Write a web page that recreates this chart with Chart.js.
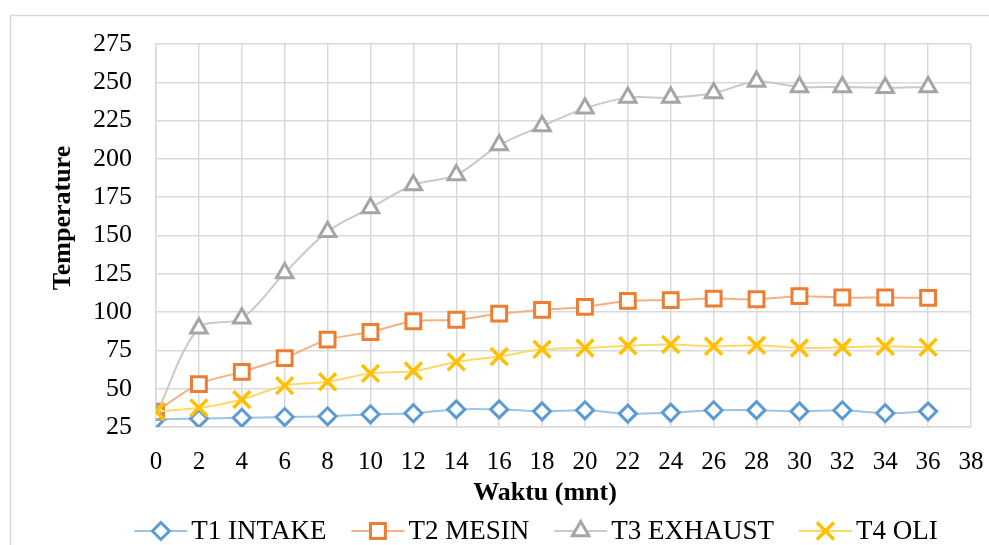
<!DOCTYPE html>
<html>
<head>
<meta charset="utf-8">
<script src="https://cdn.jsdelivr.net/npm/chart.js@4/dist/chart.umd.min.js"></script>
<style>
  html, body { margin: 0; padding: 0; background: #ffffff; }
  #wrap { width: 989px; height: 545px; position: relative; }
</style>
</head>
<body>
<div id="wrap"><canvas id="c" width="989" height="545"></canvas></div>
<script>
// ---- data ----
const waktu = [0, 2, 4, 6, 8, 10, 12, 14, 16, 18, 20, 22, 24, 26, 28, 30, 32, 34, 36];
const t1Intake  = [30, 30.5, 31, 31.5, 32, 33.3, 34, 36.5, 36.5, 35.2, 35.9, 33.7, 34.4, 35.9, 36, 35.2, 35.9, 34, 35.2];
const t2Mesin   = [35, 53, 61, 70, 82, 87, 94, 95, 99, 101.5, 103.4, 107.3, 107.8, 108.8, 108.4, 110.4, 109.5, 109.5, 109.3];
const t3Exhaust = [33, 89.5, 96, 125.5, 152.5, 168, 183, 189.5, 209, 221.5, 233, 240, 240, 243, 250.5, 247, 247, 246.5, 247];
const t4Oli     = [35, 37.5, 43, 52, 54.5, 60, 61.5, 67.5, 71, 75.7, 76.6, 78, 78.8, 77.7, 78.4, 76.6, 77, 77.7, 77];
const seriesNames = ['T1 INTAKE', 'T2 MESIN', 'T3 EXHAUST', 'T4 OLI'];
const xTitle = 'Waktu (mnt)';
const yTitle = 'Temperature';
const xMin = 0, xMax = 38, xStep = 2;
const yMin = 25, yMax = 275, yStep = 25;

// ---- styles ----
const styles = [
  { marker: '#5B9BD5', line: '#9DC3E6', shape: 'rectRot',  r: 8.5, bw: 3 },
  { marker: '#ED7D31', line: '#F4B183', shape: 'rect',     r: 10.5, bw: 3 },
  { marker: '#A5A5A5', line: '#C9C9C9', shape: 'triangle', r: 9.5, bw: 3 },
  { marker: '#FFC000', line: '#FFD966', shape: 'crossRot', r: 12, bw: 3.5 }
];
const allSeries = [t1Intake, t2Mesin, t3Exhaust, t4Oli];
const SERIF = '"Liberation Serif", "Times New Roman", serif';

const datasets = allSeries.map((vals, i) => ({
  label: seriesNames[i],
  data: waktu.map((x, j) => ({ x: x, y: vals[j] })),
  borderColor: styles[i].line,
  borderWidth: 2,
  tension: 0.33,
  pointStyle: styles[i].shape,
  pointRadius: styles[i].r,
  pointHoverRadius: styles[i].r,
  pointBorderColor: styles[i].marker,
  pointBackgroundColor: '#ffffff',
  pointBorderWidth: styles[i].bw,
  order: 4 - i,
  fill: false
}));

function drawMarker(ctx, shape, cx, cy, r, color, lw) {
  ctx.save();
  ctx.strokeStyle = color; ctx.fillStyle = '#fff'; ctx.lineWidth = lw;
  ctx.beginPath();
  if (shape === 'rectRot') {
    ctx.moveTo(cx - r, cy); ctx.lineTo(cx, cy - r); ctx.lineTo(cx + r, cy); ctx.lineTo(cx, cy + r); ctx.closePath();
    ctx.fill(); ctx.stroke();
  } else if (shape === 'rect') {
    const s = r * Math.SQRT1_2;
    ctx.rect(cx - s, cy - s, 2 * s, 2 * s); ctx.fill(); ctx.stroke();
  } else if (shape === 'triangle') {
    ctx.moveTo(cx, cy - r);
    ctx.lineTo(cx + r * Math.sin(2 * Math.PI / 3), cy - r * Math.cos(2 * Math.PI / 3));
    ctx.lineTo(cx + r * Math.sin(4 * Math.PI / 3), cy - r * Math.cos(4 * Math.PI / 3));
    ctx.closePath(); ctx.fill(); ctx.stroke();
  } else {
    const o = r * Math.SQRT1_2;
    ctx.moveTo(cx - o, cy - o); ctx.lineTo(cx + o, cy + o);
    ctx.moveTo(cx + o, cy - o); ctx.lineTo(cx - o, cy + o);
    ctx.stroke();
  }
  ctx.restore();
}

const decorPlugin = {
  id: 'decor',
  beforeDraw(chart) {
    const ctx = chart.ctx;
    ctx.save();
    ctx.fillStyle = '#ffffff';
    ctx.fillRect(0, 0, chart.width, chart.height);
    ctx.strokeStyle = '#D9D9D9';
    ctx.lineWidth = 1.5;
    ctx.strokeRect(10.5, 15.5, 1100, 700);
    ctx.restore();
  },
  afterDraw(chart) {
    const ctx = chart.ctx;
    ctx.save();
    // axis titles
    ctx.fillStyle = '#000';
    ctx.font = 'bold 26px ' + SERIF;
    ctx.textAlign = 'center';
    ctx.textBaseline = 'middle';
    ctx.fillText(xTitle, 545, 493);
    ctx.save();
    ctx.translate(63, 218);
    ctx.rotate(-Math.PI / 2);
    ctx.fillText(yTitle, 0, 0);
    ctx.restore();
    // legend
    ctx.font = '27px ' + SERIF;
    ctx.textAlign = 'left';
    const lineLen = 53, gapText = 4, gapItem = 25;
    const widths = seriesNames.map(n => ctx.measureText(n).width);
    let total = 0;
    widths.forEach((w, i) => { total += lineLen + gapText + w + (i < widths.length - 1 ? gapItem : 0); });
    let x = 536 - total / 2;
    const ly = 531;
    seriesNames.forEach((n, i) => {
      ctx.strokeStyle = styles[i].line; ctx.lineWidth = 2;
      ctx.beginPath(); ctx.moveTo(x, ly); ctx.lineTo(x + lineLen, ly); ctx.stroke();
      drawMarker(ctx, styles[i].shape, x + lineLen / 2, ly, styles[i].r, styles[i].marker, styles[i].bw);
      ctx.fillStyle = '#000';
      ctx.fillText(n, x + lineLen + gapText, ly + 1);
      x += lineLen + gapText + widths[i] + gapItem;
    });
    ctx.restore();
  }
};

new Chart(document.getElementById('c'), {
  type: 'line',
  data: { datasets: datasets },
  plugins: [decorPlugin],
  options: {
    responsive: false,
    animation: false,
    events: [],
    layout: { padding: { left: 0, top: 44, right: 18, bottom: 0 } },
    plugins: { legend: { display: false }, tooltip: { enabled: false }, title: { display: false } },
    scales: {
      x: {
        type: 'linear', min: xMin, max: xMax,
        afterFit(s) { s.height = 118; s.paddingLeft = 0; s.paddingRight = 0; },
        ticks: { stepSize: xStep, color: '#000', font: { family: SERIF, size: 25 }, padding: 20, maxRotation: 0, autoSkip: false },
        grid: { color: '#D9D9D9', lineWidth: 1.5, drawTicks: false },
        border: { color: '#D9D9D9', width: 1.5 }
      },
      y: {
        min: yMin, max: yMax,
        afterFit(s) { s.width = 156; s.paddingTop = 0; s.paddingBottom = 0; },
        ticks: { stepSize: yStep, color: '#000', font: { family: SERIF, size: 26 }, padding: 24 },
        grid: { color: '#D9D9D9', lineWidth: 1.5, drawTicks: false },
        border: { color: '#D9D9D9', width: 1.5 }
      }
    }
  }
});
</script>
</body>
</html>
